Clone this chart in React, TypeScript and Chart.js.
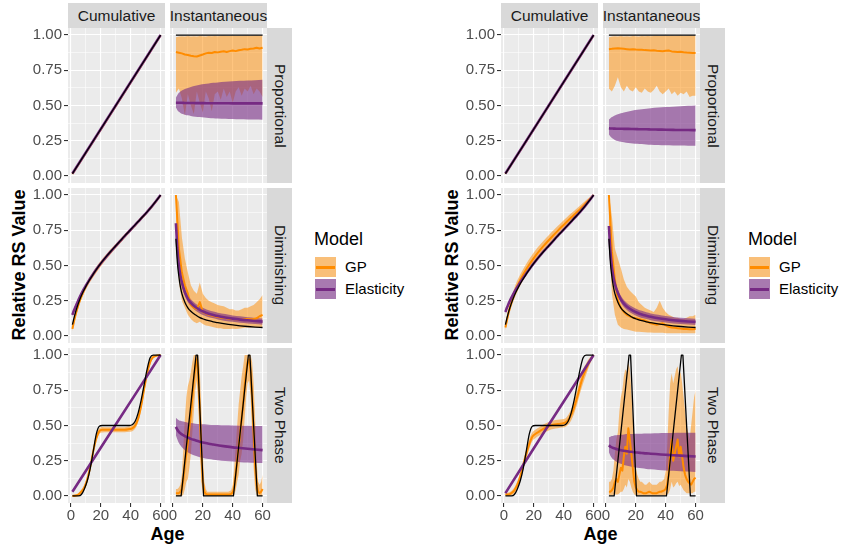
import React, { useEffect, useRef } from "react";
import { Chart, registerables } from "chart.js";
Chart.register(...registerables);

// ---------------- DATA ----------------
const COL_LABELS = ["Cumulative", "Instantaneous"];
const ROW_LABELS = ["Proportional", "Diminishing", "Two Phase"];
const LEGEND_TITLE = "Model";
const LEGEND_LABELS = ["GP", "Elasticity"];
const X_TITLE = "Age";
const Y_TITLE = "Relative RS Value";
const X_TICKS = [0, 10, 20, 30, 40, 50, 60];
const X_MAJOR = [0, 20, 40, 60];
const Y_TICKS = [0, 0.125, 0.25, 0.375, 0.5, 0.625, 0.75, 0.875, 1];
const Y_MAJOR = [0, 0.25, 0.5, 0.75, 1];

const AGE_P = [1, 15, 30, 45, 60];
const AGE_C = [1, 2, 3, 4, 6, 8, 10, 12, 15, 18, 21, 24, 27, 30, 33, 36, 39, 42, 45, 48, 51, 54, 57, 60];
const AGE_I = [2, 3, 4, 5, 6, 8, 10, 12, 15, 18, 21, 24, 27, 30, 35, 40, 45, 50, 55, 60];
const AGE_E = [2, 4, 6, 8, 10, 12, 14, 16, 18, 20, 22, 24, 26, 28, 30, 32, 34, 36, 38, 40, 42, 44, 46, 48, 50, 52, 54, 56, 58, 60];
const AGE_T = [1, 3, 5, 7, 9, 11, 13, 15, 17, 19, 21, 24, 27, 30, 33, 36, 39, 41, 43, 45, 47, 49, 51, 53, 55, 57, 60];
const AGE_A = [2, 3, 4, 5, 6, 7, 8, 9, 10, 11, 12, 13, 14, 15, 16, 17, 18, 19, 20, 21, 22, 23, 24, 25, 26, 27, 28, 29, 30, 31, 32, 33, 34, 35, 36, 37, 38, 39, 40, 41, 42, 43, 44, 45, 46, 47, 48, 49, 50, 51, 52, 53, 54, 55, 56, 57, 58, 59, 60];
const AGE_PI = [2, 60];
const AGE_TI = [2, 5.5, 15.5, 16.5, 20.5, 40.5, 50.5, 51.5, 56.5, 60];

// truths
const TRUTH_PROP_CUM = [0.017, 0.25, 0.5, 0.75, 1.0];
const TRUTH_PROP_INST = [1, 1];
const TRUTH_DIM_CUM = [0.08, 0.125, 0.165, 0.2, 0.26, 0.31, 0.352, 0.39, 0.44, 0.487, 0.529, 0.568, 0.605, 0.64, 0.675, 0.71, 0.744, 0.778, 0.812, 0.846, 0.881, 0.918, 0.958, 1.0];
const TRUTH_DIM_INST = [0.69, 0.52, 0.42, 0.35, 0.3, 0.24, 0.2, 0.175, 0.15, 0.13, 0.118, 0.108, 0.1, 0.094, 0.085, 0.078, 0.072, 0.067, 0.063, 0.06];
const TRUTH_TP_CUM = [0, 0, 0, 0.01, 0.05, 0.11, 0.2, 0.32, 0.44, 0.495, 0.5, 0.5, 0.5, 0.5, 0.5, 0.5, 0.5, 0.505, 0.53, 0.59, 0.68, 0.79, 0.9, 0.98, 1.0, 1.0, 1.0];
const TRUTH_TP_INST = [0, 0, 1, 1, 0, 0, 1, 1, 0, 0];

// ---- left figure (A) ----
const A_GP_PROP_CUM = [0.015, 0.246, 0.496, 0.747, 0.998];
const A_GP_PROP_CUM_LO = [0.01, 0.239, 0.488, 0.74, 0.993];
const A_GP_PROP_CUM_HI = [0.02, 0.253, 0.503, 0.754, 1.0];
const A_EL_PROP_CUM = [0.017, 0.25, 0.5, 0.75, 1.0];
const A_EL_PROP_CUM_LO = [0.014, 0.246, 0.496, 0.746, 0.997];
const A_EL_PROP_CUM_HI = [0.02, 0.254, 0.504, 0.754, 1.0];

const A_GP_PROP_INST = [0.88, 0.875, 0.87, 0.862, 0.858, 0.853, 0.85, 0.848, 0.855, 0.862, 0.87, 0.875, 0.873, 0.88, 0.877, 0.882, 0.885, 0.88, 0.886, 0.89, 0.886, 0.892, 0.895, 0.9, 0.898, 0.902, 0.905, 0.91, 0.905, 0.91];
const A_GP_PROP_INST_HI = [0.985, 0.99, 0.992, 0.99, 0.993, 0.99, 0.992, 0.99, 0.993, 0.992, 0.99, 0.993, 0.992, 0.994, 0.992, 0.993, 0.995, 0.993, 0.994, 0.995, 0.993, 0.995, 0.994, 0.995, 0.996, 0.994, 0.995, 0.996, 0.995, 0.996];
const A_GP_PROP_INST_LO = [0.59, 0.62, 0.55, 0.43, 0.58, 0.5, 0.44, 0.6, 0.52, 0.45, 0.6, 0.55, 0.46, 0.58, 0.6, 0.54, 0.62, 0.56, 0.6, 0.52, 0.6, 0.63, 0.57, 0.62, 0.6, 0.64, 0.58, 0.62, 0.6, 0.56];
const A_EL_PROP_INST = [0.52, 0.52, 0.519, 0.519, 0.519, 0.518, 0.518, 0.518, 0.517, 0.517, 0.517, 0.516, 0.516, 0.516, 0.516, 0.515, 0.515, 0.515, 0.515, 0.515];
const A_EL_PROP_INST_HI = [0.555, 0.575, 0.59, 0.6, 0.607, 0.617, 0.625, 0.632, 0.64, 0.647, 0.652, 0.657, 0.661, 0.664, 0.668, 0.672, 0.675, 0.678, 0.68, 0.682];
const A_EL_PROP_INST_LO = [0.485, 0.467, 0.455, 0.447, 0.442, 0.435, 0.43, 0.426, 0.421, 0.418, 0.415, 0.412, 0.41, 0.408, 0.406, 0.404, 0.402, 0.401, 0.4, 0.399];

const A_GP_DIM_CUM = [0.05, 0.1, 0.145, 0.185, 0.252, 0.305, 0.349, 0.388, 0.438, 0.485, 0.527, 0.566, 0.603, 0.638, 0.673, 0.708, 0.742, 0.776, 0.81, 0.845, 0.88, 0.917, 0.957, 0.998];
const A_GP_DIM_CUM_LO = [0.035, 0.08, 0.125, 0.165, 0.232, 0.285, 0.329, 0.368, 0.418, 0.465, 0.507, 0.548, 0.586, 0.622, 0.658, 0.694, 0.729, 0.764, 0.799, 0.835, 0.871, 0.909, 0.951, 0.995];
const A_GP_DIM_CUM_HI = [0.065, 0.12, 0.165, 0.205, 0.272, 0.325, 0.369, 0.408, 0.458, 0.505, 0.547, 0.584, 0.62, 0.654, 0.688, 0.722, 0.755, 0.788, 0.821, 0.855, 0.889, 0.925, 0.963, 1.0];
const A_EL_DIM_CUM = [0.15, 0.18, 0.205, 0.23, 0.278, 0.32, 0.357, 0.393, 0.442, 0.487, 0.528, 0.567, 0.604, 0.639, 0.674, 0.709, 0.743, 0.777, 0.811, 0.846, 0.881, 0.918, 0.958, 1.0];
const A_EL_DIM_CUM_LO = [0.135, 0.167, 0.193, 0.219, 0.268, 0.311, 0.349, 0.385, 0.435, 0.481, 0.522, 0.562, 0.599, 0.635, 0.67, 0.706, 0.74, 0.774, 0.808, 0.844, 0.879, 0.916, 0.957, 0.999];
const A_EL_DIM_CUM_HI = [0.165, 0.193, 0.217, 0.241, 0.288, 0.329, 0.365, 0.401, 0.449, 0.493, 0.534, 0.572, 0.609, 0.643, 0.678, 0.712, 0.746, 0.78, 0.814, 0.848, 0.883, 0.92, 0.959, 1.0];

const A_GP_DIM_INST = [1.0, 0.62, 0.45, 0.36, 0.3, 0.22, 0.2, 0.19, 0.24, 0.17, 0.16, 0.15, 0.145, 0.14, 0.135, 0.13, 0.13, 0.125, 0.12, 0.12, 0.118, 0.115, 0.115, 0.12, 0.12, 0.118, 0.12, 0.125, 0.14, 0.15];
const A_GP_DIM_INST_HI = [1.0, 0.95, 0.7, 0.55, 0.45, 0.36, 0.32, 0.3, 0.38, 0.3, 0.27, 0.25, 0.24, 0.23, 0.22, 0.215, 0.21, 0.2, 0.19, 0.19, 0.18, 0.18, 0.19, 0.2, 0.2, 0.21, 0.22, 0.24, 0.26, 0.29];
const A_GP_DIM_INST_LO = [0.85, 0.38, 0.25, 0.2, 0.15, 0.12, 0.1, 0.09, 0.1, 0.085, 0.075, 0.07, 0.065, 0.06, 0.055, 0.055, 0.05, 0.05, 0.05, 0.052, 0.05, 0.052, 0.055, 0.058, 0.06, 0.06, 0.062, 0.06, 0.062, 0.065];
const A_EL_DIM_INST = [0.8, 0.62, 0.5, 0.43, 0.38, 0.31, 0.265, 0.235, 0.205, 0.185, 0.17, 0.158, 0.149, 0.141, 0.131, 0.123, 0.116, 0.111, 0.106, 0.102];
const A_EL_DIM_INST_HI = [0.82, 0.645, 0.525, 0.455, 0.405, 0.335, 0.29, 0.26, 0.23, 0.21, 0.195, 0.183, 0.173, 0.165, 0.155, 0.146, 0.139, 0.133, 0.128, 0.124];
const A_EL_DIM_INST_LO = [0.78, 0.595, 0.475, 0.405, 0.355, 0.285, 0.24, 0.21, 0.18, 0.16, 0.145, 0.133, 0.125, 0.117, 0.107, 0.1, 0.093, 0.089, 0.084, 0.08];

const A_GP_TP_CUM = [0, 0.002, 0.01, 0.03, 0.06, 0.12, 0.21, 0.32, 0.41, 0.46, 0.47, 0.47, 0.47, 0.47, 0.47, 0.47, 0.475, 0.48, 0.5, 0.55, 0.64, 0.76, 0.87, 0.95, 0.985, 0.995, 1.0];
const A_GP_TP_CUM_LO = [0, 0, 0, 0.015, 0.04, 0.095, 0.185, 0.295, 0.385, 0.44, 0.45, 0.452, 0.452, 0.452, 0.452, 0.452, 0.456, 0.46, 0.478, 0.525, 0.61, 0.73, 0.845, 0.93, 0.975, 0.99, 0.998];
const A_GP_TP_CUM_HI = [0.01, 0.012, 0.02, 0.045, 0.08, 0.145, 0.235, 0.345, 0.435, 0.48, 0.49, 0.488, 0.488, 0.488, 0.488, 0.488, 0.494, 0.5, 0.522, 0.575, 0.67, 0.79, 0.895, 0.97, 0.995, 1.0, 1.0];
const A_EL_TP_CUM = [0.03, 0.26, 0.507, 0.753, 1.0];
const A_EL_TP_CUM_LO = [0.022, 0.254, 0.502, 0.749, 0.996];
const A_EL_TP_CUM_HI = [0.038, 0.266, 0.512, 0.757, 1.0];

const A_GP_TP_INST = [
  0.02, 0.02, 0.02, 0.03, 0.05, 0.12, 0.22, 0.3, 0.38, 0.48, 0.58, 0.7, 0.82, 0.92, 0.97, 0.85, 0.6, 0.3, 0.1, 0.03, 0.015,
  0.01, 0.01, 0.01, 0.01, 0.01, 0.01, 0.01, 0.01, 0.01, 0.01, 0.01, 0.01, 0.01, 0.01, 0.01,
  0.012, 0.015, 0.025, 0.06, 0.15, 0.25, 0.35, 0.45, 0.55, 0.65, 0.78, 0.88, 0.95, 0.97, 0.88, 0.7, 0.45, 0.22, 0.08, 0.03, 0.02, 0.03, 0.05,
];
const A_GP_TP_INST_HI = [
  0.05, 0.05, 0.06, 0.08, 0.15, 0.35, 0.55, 0.7, 0.78, 0.82, 0.88, 0.95, 1.0, 1.0, 1.0, 1.0, 0.9, 0.6, 0.3, 0.1, 0.05,
  0.03, 0.03, 0.03, 0.03, 0.03, 0.03, 0.03, 0.03, 0.03, 0.03, 0.03, 0.03, 0.03, 0.03, 0.03,
  0.035, 0.04, 0.08, 0.2, 0.35, 0.5, 0.65, 0.75, 0.85, 0.92, 1.0, 1.0, 1.0, 1.0, 1.0, 0.95, 0.8, 0.55, 0.25, 0.1, 0.08, 0.1, 0.15,
];
const A_GP_TP_INST_LO = [
  0, 0, 0, 0, 0, 0.01, 0.05, 0.1, 0.12, 0.2, 0.3, 0.45, 0.6, 0.75, 0.82, 0.65, 0.35, 0.1, 0.02, 0, 0,
  0, 0, 0, 0, 0, 0, 0, 0, 0, 0, 0, 0, 0, 0, 0,
  0, 0, 0, 0.01, 0.04, 0.1, 0.15, 0.25, 0.3, 0.4, 0.55, 0.7, 0.8, 0.82, 0.7, 0.45, 0.2, 0.05, 0.01, 0, 0, 0, 0,
];
const A_EL_TP_INST = [0.49, 0.47, 0.455, 0.445, 0.437, 0.425, 0.415, 0.405, 0.395, 0.385, 0.377, 0.37, 0.365, 0.36, 0.352, 0.345, 0.34, 0.335, 0.33, 0.325];
const A_EL_TP_INST_HI = [0.555, 0.545, 0.538, 0.533, 0.53, 0.525, 0.52, 0.517, 0.513, 0.51, 0.508, 0.506, 0.504, 0.503, 0.501, 0.5, 0.499, 0.498, 0.497, 0.496];
const A_EL_TP_INST_LO = [0.43, 0.4, 0.375, 0.36, 0.345, 0.325, 0.31, 0.298, 0.285, 0.275, 0.268, 0.262, 0.257, 0.253, 0.248, 0.244, 0.24, 0.237, 0.235, 0.233];

// ---- right figure (B) ----
const B_GP_PROP_CUM = [0.016, 0.248, 0.498, 0.749, 0.999];
const B_GP_PROP_CUM_LO = [0.01, 0.24, 0.49, 0.742, 0.994];
const B_GP_PROP_CUM_HI = [0.022, 0.256, 0.506, 0.756, 1.0];
const B_EL_PROP_CUM = [0.017, 0.25, 0.5, 0.75, 1.0];
const B_EL_PROP_CUM_LO = [0.014, 0.246, 0.496, 0.746, 0.997];
const B_EL_PROP_CUM_HI = [0.02, 0.254, 0.504, 0.754, 1.0];

const B_GP_PROP_INST = [0.9, 0.902, 0.905, 0.906, 0.904, 0.902, 0.9, 0.898, 0.9, 0.897, 0.895, 0.896, 0.893, 0.892, 0.89, 0.892, 0.889, 0.887, 0.885, 0.888, 0.89, 0.884, 0.882, 0.88, 0.881, 0.878, 0.876, 0.875, 0.873, 0.872];
const B_GP_PROP_INST_HI = [0.985, 0.99, 0.992, 0.99, 0.993, 0.99, 0.992, 0.99, 0.993, 0.992, 0.99, 0.993, 0.992, 0.994, 0.992, 0.993, 0.995, 0.993, 0.994, 0.995, 0.993, 0.995, 0.994, 0.995, 0.996, 0.994, 0.995, 0.996, 0.995, 0.996];
const B_GP_PROP_INST_LO = [0.62, 0.6, 0.64, 0.7, 0.63, 0.6, 0.64, 0.61, 0.6, 0.63, 0.6, 0.59, 0.62, 0.6, 0.59, 0.61, 0.64, 0.6, 0.58, 0.6, 0.62, 0.58, 0.6, 0.57, 0.59, 0.58, 0.6, 0.56, 0.57, 0.57];
const B_EL_PROP_INST = [0.338, 0.337, 0.337, 0.336, 0.336, 0.335, 0.335, 0.334, 0.334, 0.333, 0.332, 0.331, 0.331, 0.33, 0.329, 0.328, 0.327, 0.326, 0.326, 0.325];
const B_EL_PROP_INST_HI = [0.4, 0.41, 0.418, 0.424, 0.429, 0.438, 0.445, 0.451, 0.458, 0.464, 0.469, 0.473, 0.477, 0.48, 0.485, 0.489, 0.492, 0.495, 0.498, 0.5];
const B_EL_PROP_INST_LO = [0.295, 0.28, 0.27, 0.262, 0.256, 0.248, 0.243, 0.239, 0.234, 0.231, 0.228, 0.226, 0.224, 0.222, 0.22, 0.218, 0.217, 0.216, 0.215, 0.214];

const B_GP_DIM_CUM = [0.06, 0.11, 0.16, 0.2, 0.27, 0.33, 0.377, 0.418, 0.473, 0.522, 0.567, 0.607, 0.644, 0.679, 0.713, 0.746, 0.778, 0.809, 0.84, 0.87, 0.9, 0.932, 0.966, 1.0];
const B_GP_DIM_CUM_LO = [0.04, 0.085, 0.13, 0.17, 0.235, 0.29, 0.337, 0.378, 0.433, 0.482, 0.527, 0.569, 0.607, 0.643, 0.678, 0.712, 0.745, 0.778, 0.81, 0.842, 0.875, 0.91, 0.951, 0.995];
const B_GP_DIM_CUM_HI = [0.08, 0.135, 0.19, 0.23, 0.305, 0.37, 0.417, 0.458, 0.513, 0.562, 0.607, 0.645, 0.681, 0.715, 0.748, 0.78, 0.811, 0.84, 0.87, 0.898, 0.925, 0.954, 0.981, 1.0];
const B_EL_DIM_CUM = [0.17, 0.2, 0.225, 0.25, 0.292, 0.33, 0.364, 0.397, 0.443, 0.488, 0.529, 0.568, 0.605, 0.64, 0.675, 0.71, 0.744, 0.778, 0.812, 0.846, 0.881, 0.918, 0.958, 1.0];
const B_EL_DIM_CUM_LO = [0.155, 0.187, 0.213, 0.239, 0.282, 0.321, 0.356, 0.389, 0.436, 0.482, 0.523, 0.563, 0.6, 0.636, 0.671, 0.707, 0.741, 0.775, 0.809, 0.844, 0.879, 0.916, 0.957, 0.999];
const B_EL_DIM_CUM_HI = [0.185, 0.213, 0.237, 0.261, 0.302, 0.339, 0.372, 0.405, 0.45, 0.494, 0.535, 0.573, 0.61, 0.644, 0.679, 0.713, 0.747, 0.781, 0.815, 0.848, 0.883, 0.92, 0.959, 1.0];

const B_GP_DIM_INST = [1.0, 0.6, 0.4, 0.25, 0.2, 0.17, 0.15, 0.14, 0.13, 0.125, 0.12, 0.115, 0.11, 0.1, 0.09, 0.085, 0.08, 0.085, 0.09, 0.075, 0.065, 0.06, 0.058, 0.055, 0.052, 0.05, 0.05, 0.048, 0.047, 0.05];
const B_GP_DIM_INST_HI = [1.0, 0.85, 0.62, 0.55, 0.48, 0.4, 0.35, 0.32, 0.3, 0.28, 0.24, 0.22, 0.2, 0.19, 0.18, 0.17, 0.2, 0.25, 0.2, 0.17, 0.15, 0.14, 0.13, 0.13, 0.12, 0.12, 0.13, 0.14, 0.14, 0.15];
const B_GP_DIM_INST_LO = [0.7, 0.3, 0.15, 0.08, 0.06, 0.05, 0.045, 0.04, 0.035, 0.03, 0.03, 0.028, 0.026, 0.025, 0.024, 0.022, 0.022, 0.022, 0.022, 0.02, 0.02, 0.02, 0.02, 0.02, 0.02, 0.02, 0.02, 0.02, 0.02, 0.02];
const B_EL_DIM_INST = [0.78, 0.6, 0.49, 0.42, 0.37, 0.305, 0.26, 0.23, 0.2, 0.18, 0.165, 0.153, 0.144, 0.136, 0.126, 0.118, 0.112, 0.107, 0.103, 0.1];
const B_EL_DIM_INST_HI = [0.8, 0.625, 0.515, 0.445, 0.395, 0.33, 0.285, 0.255, 0.225, 0.205, 0.19, 0.178, 0.168, 0.16, 0.15, 0.141, 0.135, 0.129, 0.125, 0.122];
const B_EL_DIM_INST_LO = [0.76, 0.575, 0.465, 0.395, 0.345, 0.28, 0.235, 0.205, 0.175, 0.155, 0.14, 0.128, 0.12, 0.112, 0.102, 0.095, 0.089, 0.085, 0.081, 0.078];

const B_GP_TP_CUM = [0.01, 0.01, 0.02, 0.04, 0.08, 0.14, 0.22, 0.3, 0.37, 0.42, 0.44, 0.46, 0.48, 0.495, 0.505, 0.51, 0.515, 0.52, 0.54, 0.575, 0.63, 0.7, 0.78, 0.85, 0.9, 0.95, 1.0];
const B_GP_TP_CUM_LO = [0, 0, 0.005, 0.02, 0.055, 0.11, 0.185, 0.265, 0.335, 0.39, 0.41, 0.43, 0.45, 0.465, 0.475, 0.48, 0.485, 0.49, 0.505, 0.535, 0.585, 0.65, 0.73, 0.8, 0.86, 0.92, 0.995];
const B_GP_TP_CUM_HI = [0.02, 0.025, 0.035, 0.06, 0.105, 0.17, 0.255, 0.335, 0.405, 0.45, 0.47, 0.49, 0.51, 0.525, 0.535, 0.54, 0.545, 0.55, 0.575, 0.615, 0.675, 0.75, 0.83, 0.9, 0.94, 0.975, 1.0];
const B_EL_TP_CUM = [0.02, 0.255, 0.505, 0.752, 1.0];
const B_EL_TP_CUM_LO = [0.013, 0.249, 0.5, 0.748, 0.996];
const B_EL_TP_CUM_HI = [0.027, 0.261, 0.51, 0.756, 1.0];

const B_GP_TP_INST = [
  0.03, 0.03, 0.04, 0.06, 0.1, 0.12, 0.1, 0.15, 0.2, 0.18, 0.28, 0.35, 0.3, 0.48, 0.4, 0.3, 0.2, 0.1, 0.06, 0.04, 0.03,
  0.03, 0.025, 0.02, 0.02, 0.02, 0.025, 0.03, 0.025, 0.02, 0.02, 0.02, 0.02, 0.025, 0.03, 0.03,
  0.035, 0.04, 0.05, 0.08, 0.15, 0.3, 0.4, 0.25, 0.3, 0.35, 0.4, 0.28, 0.35, 0.28, 0.2, 0.15, 0.12, 0.1, 0.09, 0.08, 0.1, 0.12, 0.13,
];
const B_GP_TP_INST_HI = [
  0.1, 0.1, 0.12, 0.18, 0.3, 0.4, 0.45, 0.6, 0.7, 0.75, 0.85, 0.9, 0.88, 0.95, 0.9, 0.75, 0.55, 0.35, 0.2, 0.15, 0.12,
  0.1, 0.1, 0.09, 0.08, 0.08, 0.09, 0.1, 0.09, 0.08, 0.08, 0.08, 0.08, 0.09, 0.1, 0.1,
  0.11, 0.12, 0.18, 0.35, 0.6, 0.8, 0.87, 0.8, 0.85, 0.9, 0.92, 0.85, 0.88, 0.8, 0.7, 0.6, 0.5, 0.45, 0.4, 0.5, 0.6, 0.7, 0.75,
];
const B_GP_TP_INST_LO = [
  0.005, 0.005, 0.005, 0.01, 0.01, 0.01, 0.01, 0.02, 0.03, 0.03, 0.05, 0.08, 0.06, 0.12, 0.1, 0.06, 0.03, 0.01, 0.005, 0.005, 0.005,
  0.005, 0.005, 0.005, 0.005, 0.005, 0.005, 0.005, 0.005, 0.005, 0.005, 0.005, 0.005, 0.005, 0.005, 0.005,
  0.005, 0.005, 0.005, 0.01, 0.02, 0.05, 0.1, 0.06, 0.07, 0.09, 0.1, 0.07, 0.08, 0.06, 0.04, 0.03, 0.02, 0.02, 0.02, 0.02, 0.02, 0.03, 0.03,
];
const B_EL_TP_INST = [0.36, 0.35, 0.345, 0.34, 0.336, 0.33, 0.325, 0.321, 0.316, 0.312, 0.308, 0.305, 0.302, 0.3, 0.296, 0.292, 0.289, 0.286, 0.283, 0.28];
const B_EL_TP_INST_HI = [0.415, 0.42, 0.425, 0.428, 0.43, 0.433, 0.435, 0.437, 0.439, 0.44, 0.441, 0.442, 0.443, 0.444, 0.445, 0.446, 0.447, 0.448, 0.448, 0.449];
const B_EL_TP_INST_LO = [0.31, 0.285, 0.27, 0.258, 0.25, 0.238, 0.228, 0.22, 0.212, 0.205, 0.2, 0.196, 0.192, 0.189, 0.185, 0.181, 0.178, 0.175, 0.173, 0.17];

// ---------------- STYLE / LAYOUT ----------------
const FONT = "'Liberation Sans', Arial, Helvetica, sans-serif";
const GP_LINE = "#FF8C00";
const GP_FILL = "rgba(255,140,0,0.5)";
const EL_LINE = "#762A83";
const EL_FILL = "rgba(118,42,131,0.6)";
const FIG_X = [0, 433];
const COL_L = [68, 170];
const PW = 97;
const ROW_T = [28, 188, 348];
const PH = 155;
const STRIP = 25;
const M = 12;
const AXW = 44;
const AXH = 24;

type Series = { xs: number[]; m: number[]; lo?: number[]; hi?: number[]; smooth: boolean };
type PanelSpec = { fig: number; row: number; col: number; truth: Series; gp: Series; el: Series };

const S = (xs: number[], m: number[], lo?: number[], hi?: number[], smooth = true): Series => ({ xs, m, lo, hi, smooth });

const PANELS: PanelSpec[] = [
  // left figure
  { fig: 0, row: 0, col: 0, truth: S(AGE_P, TRUTH_PROP_CUM, undefined, undefined, false), gp: S(AGE_P, A_GP_PROP_CUM, A_GP_PROP_CUM_LO, A_GP_PROP_CUM_HI, false), el: S(AGE_P, A_EL_PROP_CUM, A_EL_PROP_CUM_LO, A_EL_PROP_CUM_HI, false) },
  { fig: 0, row: 0, col: 1, truth: S(AGE_PI, TRUTH_PROP_INST, undefined, undefined, false), gp: S(AGE_E, A_GP_PROP_INST, A_GP_PROP_INST_LO, A_GP_PROP_INST_HI, false), el: S(AGE_I, A_EL_PROP_INST, A_EL_PROP_INST_LO, A_EL_PROP_INST_HI) },
  { fig: 0, row: 1, col: 0, truth: S(AGE_C, TRUTH_DIM_CUM), gp: S(AGE_C, A_GP_DIM_CUM, A_GP_DIM_CUM_LO, A_GP_DIM_CUM_HI), el: S(AGE_C, A_EL_DIM_CUM, A_EL_DIM_CUM_LO, A_EL_DIM_CUM_HI) },
  { fig: 0, row: 1, col: 1, truth: S(AGE_I, TRUTH_DIM_INST), gp: S(AGE_E, A_GP_DIM_INST, A_GP_DIM_INST_LO, A_GP_DIM_INST_HI, false), el: S(AGE_I, A_EL_DIM_INST, A_EL_DIM_INST_LO, A_EL_DIM_INST_HI) },
  { fig: 0, row: 2, col: 0, truth: S(AGE_T, TRUTH_TP_CUM), gp: S(AGE_T, A_GP_TP_CUM, A_GP_TP_CUM_LO, A_GP_TP_CUM_HI), el: S(AGE_P, A_EL_TP_CUM, A_EL_TP_CUM_LO, A_EL_TP_CUM_HI, false) },
  { fig: 0, row: 2, col: 1, truth: S(AGE_TI, TRUTH_TP_INST, undefined, undefined, false), gp: S(AGE_A, A_GP_TP_INST, A_GP_TP_INST_LO, A_GP_TP_INST_HI, false), el: S(AGE_I, A_EL_TP_INST, A_EL_TP_INST_LO, A_EL_TP_INST_HI) },
  // right figure
  { fig: 1, row: 0, col: 0, truth: S(AGE_P, TRUTH_PROP_CUM, undefined, undefined, false), gp: S(AGE_P, B_GP_PROP_CUM, B_GP_PROP_CUM_LO, B_GP_PROP_CUM_HI, false), el: S(AGE_P, B_EL_PROP_CUM, B_EL_PROP_CUM_LO, B_EL_PROP_CUM_HI, false) },
  { fig: 1, row: 0, col: 1, truth: S(AGE_PI, TRUTH_PROP_INST, undefined, undefined, false), gp: S(AGE_E, B_GP_PROP_INST, B_GP_PROP_INST_LO, B_GP_PROP_INST_HI, false), el: S(AGE_I, B_EL_PROP_INST, B_EL_PROP_INST_LO, B_EL_PROP_INST_HI) },
  { fig: 1, row: 1, col: 0, truth: S(AGE_C, TRUTH_DIM_CUM), gp: S(AGE_C, B_GP_DIM_CUM, B_GP_DIM_CUM_LO, B_GP_DIM_CUM_HI), el: S(AGE_C, B_EL_DIM_CUM, B_EL_DIM_CUM_LO, B_EL_DIM_CUM_HI) },
  { fig: 1, row: 1, col: 1, truth: S(AGE_I, TRUTH_DIM_INST), gp: S(AGE_E, B_GP_DIM_INST, B_GP_DIM_INST_LO, B_GP_DIM_INST_HI, false), el: S(AGE_I, B_EL_DIM_INST, B_EL_DIM_INST_LO, B_EL_DIM_INST_HI) },
  { fig: 1, row: 2, col: 0, truth: S(AGE_T, TRUTH_TP_CUM), gp: S(AGE_T, B_GP_TP_CUM, B_GP_TP_CUM_LO, B_GP_TP_CUM_HI), el: S(AGE_P, B_EL_TP_CUM, B_EL_TP_CUM_LO, B_EL_TP_CUM_HI, false) },
  { fig: 1, row: 2, col: 1, truth: S(AGE_TI, TRUTH_TP_INST, undefined, undefined, false), gp: S(AGE_A, B_GP_TP_INST, B_GP_TP_INST_LO, B_GP_TP_INST_HI, false), el: S(AGE_I, B_EL_TP_INST, B_EL_TP_INST_LO, B_EL_TP_INST_HI) },
];

const pts = (xs: number[], ys: number[]) => xs.map((x, i) => ({ x, y: ys[i] }));
const isMajorX = (v: number) => X_MAJOR.some((m) => Math.abs(m - v) < 1e-6);
const isMajorY = (v: number) => Y_MAJOR.some((m) => Math.abs(m - v) < 1e-6);

function lineDS(s: Series, color: string, width: number) {
  return {
    data: pts(s.xs, s.m),
    borderColor: color,
    borderWidth: width,
    pointRadius: 0,
    fill: false,
    tension: 0,
    cubicInterpolationMode: s.smooth ? "monotone" : "default",
    borderJoinStyle: "round",
  };
}
function ribbonDS(s: Series, fillColor: string) {
  const base = { borderWidth: 0, borderColor: "rgba(0,0,0,0)", pointRadius: 0, tension: 0, cubicInterpolationMode: s.smooth ? "monotone" : "default" };
  return [
    { ...base, data: pts(s.xs, s.lo as number[]), fill: false },
    { ...base, data: pts(s.xs, s.hi as number[]), fill: "-1", backgroundColor: fillColor },
  ];
}

const panelBg = {
  id: "panelBg",
  beforeDraw(chart: any) {
    const { ctx, chartArea: a } = chart;
    ctx.save();
    ctx.fillStyle = "#EBEBEB";
    ctx.fillRect(a.left, a.top, a.right - a.left, a.bottom - a.top);
    ctx.restore();
  },
};

function Panel({ p }: { p: PanelSpec }) {
  const ref = useRef<HTMLCanvasElement>(null);
  const showY = p.col === 0;
  const showX = p.row === 2;
  const cw = PW + (showY ? AXW : 0) + 2 * M;
  const ch = PH + (showX ? AXH : 0) + 2 * M;
  const left = COL_L[p.col] + FIG_X[p.fig] - (showY ? AXW : 0) - M;
  const top = ROW_T[p.row] - M;
  useEffect(() => {
    const tickFont = { family: FONT, size: 15 };
    const datasets: any[] = [
      lineDS(p.truth, "#000000", 1.3),
      lineDS(p.el, EL_LINE, 2.6),
      lineDS(p.gp, GP_LINE, 2),
      ...ribbonDS(p.el, EL_FILL),
      ...ribbonDS(p.gp, GP_FILL),
    ];
    const chart = new Chart(ref.current as HTMLCanvasElement, {
      type: "line",
      data: { datasets },
      options: {
        animation: false,
        responsive: false,
        maintainAspectRatio: false,
        devicePixelRatio: 1,
        events: [],
        layout: { padding: M },
        plugins: { legend: { display: false }, tooltip: { enabled: false }, title: { display: false } },
        scales: {
          x: {
            type: "linear",
            min: -1.95,
            max: 62.95,
            afterBuildTicks: (s: any) => {
              s.ticks = X_TICKS.map((v) => ({ value: v }));
            },
            afterFit: (s: any) => {
              s.height = showX ? AXH : 0;
            },
            border: { display: false },
            grid: {
              color: "#FFFFFF",
              lineWidth: (c: any) => (c.tick && isMajorX(c.tick.value) ? 1.1 : 0.55),
              drawTicks: showX,
              tickLength: 4,
              tickWidth: 1.1,
              tickColor: (c: any) => (c.tick && isMajorX(c.tick.value) ? "#333333" : "rgba(0,0,0,0)"),
            },
            ticks: {
              display: showX,
              autoSkip: false,
              maxRotation: 0,
              minRotation: 0,
              padding: 0,
              color: "#4D4D4D",
              font: tickFont,
              callback: (v: any) => (isMajorX(Number(v)) ? String(v) : ""),
            },
          },
          y: {
            type: "linear",
            min: -0.05,
            max: 1.05,
            afterBuildTicks: (s: any) => {
              s.ticks = Y_TICKS.map((v) => ({ value: v }));
            },
            afterFit: (s: any) => {
              s.width = showY ? AXW : 0;
            },
            border: { display: false },
            grid: {
              color: "#FFFFFF",
              lineWidth: (c: any) => (c.tick && isMajorY(c.tick.value) ? 1.1 : 0.55),
              drawTicks: showY,
              tickLength: 4,
              tickWidth: 1.1,
              tickColor: (c: any) => (c.tick && isMajorY(c.tick.value) ? "#333333" : "rgba(0,0,0,0)"),
            },
            ticks: {
              display: showY,
              autoSkip: false,
              padding: 2,
              color: "#4D4D4D",
              font: tickFont,
              callback: (v: any) => (isMajorY(Number(v)) ? Number(v).toFixed(2) : ""),
            },
          },
        },
      } as any,
      plugins: [panelBg],
    } as any);
    return () => chart.destroy();
  }, []);
  return <canvas ref={ref} width={cw} height={ch} style={{ position: "absolute", left, top, width: cw, height: ch }} />;
}

function Figure({ f }: { f: number }) {
  const ox = FIG_X[f];
  const stripText: React.CSSProperties = { fontFamily: FONT, fontSize: 15.5, color: "#1A1A1A", display: "flex", alignItems: "center", justifyContent: "center", whiteSpace: "nowrap" };
  const lox = 315 + (f === 1 ? 434 : 0);
  return (
    <>
      {COL_LABELS.map((t, c) => (
        <div key={"c" + c} style={{ ...stripText, position: "absolute", left: COL_L[c] + ox, top: 3, width: PW, height: STRIP, background: "#D9D9D9" }}>
          {t}
        </div>
      ))}
      {ROW_LABELS.map((t, r) => (
        <div key={"r" + r} style={{ ...stripText, position: "absolute", left: COL_L[1] + PW + ox, top: ROW_T[r], width: STRIP, height: PH, background: "#D9D9D9" }}>
          <span style={{ writingMode: "vertical-rl" }}>{t}</span>
        </div>
      ))}
      <div style={{ position: "absolute", left: 19 + ox - 150, top: 265 - 11, width: 300, height: 22, lineHeight: "22px", textAlign: "center", transform: "rotate(-90deg)", fontFamily: FONT, fontWeight: "bold", fontSize: 18, color: "#000" }}>
        {Y_TITLE}
      </div>
      <div style={{ position: "absolute", left: COL_L[0] + ox, top: 524, width: COL_L[1] + PW - COL_L[0], height: 20, lineHeight: "20px", textAlign: "center", fontFamily: FONT, fontWeight: "bold", fontSize: 18, color: "#000" }}>
        {X_TITLE}
      </div>
      <div style={{ position: "absolute", left: lox - 1, top: 228, height: 22, lineHeight: "22px", fontFamily: FONT, fontSize: 18, color: "#000", whiteSpace: "nowrap" }}>{LEGEND_TITLE}</div>
      {LEGEND_LABELS.map((t, i) => (
        <React.Fragment key={"l" + i}>
          <div style={{ position: "absolute", left: lox, top: 257 + i * 22, width: 21, height: 20, background: "#F2F2F2" }}>
            <div style={{ position: "absolute", left: 0, top: 0, width: 21, height: 20, background: i === 0 ? GP_FILL : EL_FILL }} />
            <div style={{ position: "absolute", left: 1, top: 8.5, width: 19, height: 3, background: i === 0 ? GP_LINE : EL_LINE }} />
          </div>
          <div style={{ position: "absolute", left: lox + 30, top: 258 + i * 22, height: 18, lineHeight: "18px", fontFamily: FONT, fontSize: 15, color: "#000", whiteSpace: "nowrap" }}>{t}</div>
        </React.Fragment>
      ))}
    </>
  );
}

export default function App() {
  return (
    <div style={{ position: "absolute", left: 0, top: 0, width: 841, height: 550, background: "#FFFFFF", overflow: "hidden" }}>
      <Figure f={0} />
      <Figure f={1} />
      {PANELS.map((p, i) => (
        <Panel key={i} p={p} />
      ))}
    </div>
  );
}
